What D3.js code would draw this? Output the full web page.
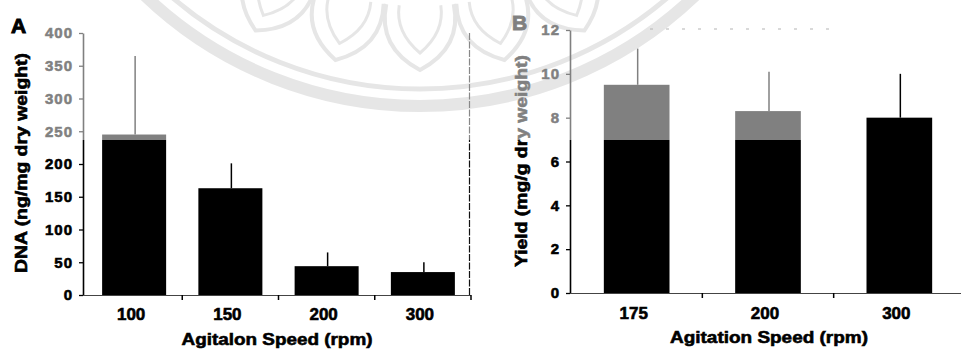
<!DOCTYPE html>
<meta charset="utf-8">
<style>
body { margin: 0; background: #fff; }
svg { display: block; }
text {
  font-family: "Liberation Sans", Arial, sans-serif;
  font-weight: bold;
  fill: #000;
  stroke: #000;
  stroke-width: 0.6px;
}
</style>
<svg width="961" height="350"></svg>
<script src="https://cdn.jsdelivr.net/npm/d3@7"></script>
<script>

// panel A
var speedsA = ["100", "150", "200", "300"];
var dnaMean = [245, 163, 44, 35];
var dnaSD = [120, 38, 21, 15];
var ticksA = [0, 50, 100, 150, 200, 250, 300, 350, 400];

// panel B
var speedsB = ["175", "200", "300"];
var yieldMean = [9.5, 8.3, 8.0];
var yieldSD = [1.65, 1.8, 2.0];
var ticksB = [0, 2, 4, 6, 8, 10, 12];

var svg = d3.select("svg");

// faint seal watermark behind the figure
var mark = svg.append("g")
    .attr("fill", "none")
    .attr("stroke", "#cdcdcd")
    .attr("transform", "translate(420,-292)");

mark.append("circle").attr("r", 398).attr("stroke-width", 12);
mark.append("circle").attr("r", 381).attr("stroke-width", 5);

function petal(r0, r1, w, a) {
  var p = d3.path();
  var rad = Math.PI / 180;
  function pt(r, t) { return [r * Math.sin(t * rad), r * Math.cos(t * rad)]; }
  var s = pt(r0, a - w), e = pt(r0, a + w), tip = pt(r1, a);
  var c1 = pt(r1 - 20, a - w * 1.1), c2 = pt(r1 - 20, a + w * 1.1);
  p.moveTo(s[0], s[1]);
  p.quadraticCurveTo(c1[0], c1[1], tip[0], tip[1]);
  p.quadraticCurveTo(c2[0], c2[1], e[0], e[1]);
  return p.toString();
}

d3.range(-40.5, 41, 13.5).forEach(function (a) {
  mark.append("path").attr("d", petal(298, 362, 6.5, a)).attr("stroke-width", 4);
  mark.append("path").attr("d", petal(298, 345, 4, a)).attr("stroke-width", 3);
});

function drawPanel(opt) {
  var g = svg.append("g");

  var x = d3.scaleBand()
      .domain(opt.cats)
      .range(opt.xRange)
      .paddingInner(opt.pad)
      .paddingOuter(opt.pad / 2);

  var y = d3.scaleLinear()
      .domain(opt.yDomain)
      .range(opt.yRange);

  var rows = opt.cats.map(function (c, i) {
    return { cat: c, mean: opt.mean[i], sd: opt.sd[i] };
  });

  // bars
  g.append("g").selectAll("rect")
      .data(rows)
      .enter().append("rect")
        .attr("x", function (d) { return x(d.cat); })
        .attr("width", x.bandwidth())
        .attr("y", function (d) { return y(d.mean); })
        .attr("height", function (d) { return y(0) - y(d.mean); })
        .attr("fill", "#000");

  // upper error bars, no caps
  g.append("g").selectAll("line")
      .data(rows)
      .enter().append("line")
        .attr("x1", function (d) { return x(d.cat) + x.bandwidth() / 2 + 1; })
        .attr("x2", function (d) { return x(d.cat) + x.bandwidth() / 2 + 1; })
        .attr("y1", function (d) { return y(d.mean); })
        .attr("y2", function (d) { return y(d.mean + d.sd); })
        .attr("stroke", "#000")
        .attr("stroke-width", 1.5);

  // y axis
  var ya = g.append("g")
      .attr("transform", "translate(" + opt.axisX + ",0)")
      .call(d3.axisLeft(y).tickValues(opt.ticks).tickSize(4).tickPadding(6).tickSizeOuter(0));
  ya.attr("font-family", null).attr("font-size", null);
  ya.select(".domain").attr("stroke", "#000").attr("stroke-width", 1.6);
  ya.selectAll(".tick line").attr("stroke", "#000").attr("stroke-width", 1.3);
  ya.selectAll(".tick text")
      .attr("font-size", 15)
      .attr("letter-spacing", 1)
      .attr("fill", "#000");

  // x axis baseline with ticks between categories
  g.append("line")
      .attr("x1", opt.axisX)
      .attr("x2", opt.xEnd)
      .attr("y1", y(0) + 0.5)
      .attr("y2", y(0) + 0.5)
      .attr("stroke", "#444")
      .attr("stroke-width", 1.2);

  g.append("g").selectAll("line")
      .data(opt.cats)
      .enter().append("line")
        .attr("x1", function (d) { return x(d) + x.bandwidth() + x.step() * opt.pad / 2; })
        .attr("x2", function (d) { return x(d) + x.bandwidth() + x.step() * opt.pad / 2; })
        .attr("y1", y(0))
        .attr("y2", y(0) + 5)
        .attr("stroke", "#000")
        .attr("stroke-width", 1.5);

  g.append("g").selectAll("text")
      .data(opt.cats)
      .enter().append("text")
        .attr("x", function (d) { return x(d) + x.bandwidth() / 2 - 3; })
        .attr("y", opt.catY)
        .attr("text-anchor", "middle")
        .attr("font-size", 17)
        .text(function (d) { return d; });

  g.append("text")
      .attr("x", opt.titleX)
      .attr("y", opt.titleY)
      .attr("text-anchor", "middle")
      .attr("font-size", 17)
      .attr("textLength", opt.titleLen)
      .attr("lengthAdjust", "spacingAndGlyphs")
      .text(opt.xTitle);

  g.append("text")
      .attr("transform", "translate(" + opt.yTitleX + "," + opt.yTitleY + ") rotate(-90)")
      .attr("text-anchor", "middle")
      .attr("font-size", 16)
      .attr("textLength", opt.yTitleLen)
      .attr("lengthAdjust", "spacingAndGlyphs")
      .text(opt.yTitle);

  g.append("text")
      .attr("x", opt.letterX)
      .attr("y", opt.letterY)
      .attr("font-size", 21)
      .style("stroke-width", "1px")
      .text(opt.letter);

  return { g: g, x: x, y: y };
}

var a = drawPanel({
  cats: speedsA, mean: dnaMean, sd: dnaSD, ticks: ticksA,
  xRange: [86, 471], pad: 0.335, yDomain: [0, 400], yRange: [295, 33],
  axisX: 83, xEnd: 471, catY: 320,
  xTitle: "Agitalon Speed (rpm)", titleX: 277, titleY: 345, titleLen: 191,
  yTitle: "DNA (ng/mg dry weight)", yTitleX: 27, yTitleY: 163, yTitleLen: 220,
  letter: "A", letterX: 11, letterY: 33
});

// dashed right frame of panel A
a.g.append("line")
    .attr("x1", 469.5).attr("x2", 469.5)
    .attr("y1", a.y(400)).attr("y2", a.y(0))
    .attr("stroke", "#111")
    .attr("stroke-width", 1.2)
    .attr("stroke-dasharray", "7,1.5");

var b = drawPanel({
  cats: speedsB, mean: yieldMean, sd: yieldSD, ticks: ticksB,
  xRange: [571, 965], pad: 0.5, yDomain: [0, 12], yRange: [293, 30],
  axisX: 570, xEnd: 961, catY: 319,
  xTitle: "Agitation Speed (rpm)", titleX: 769, titleY: 343, titleLen: 198,
  yTitle: "Yield (mg/g dry weight)", yTitleX: 527, yTitleY: 161, yTitleLen: 212,
  letter: "B", letterX: 512, letterY: 30
});

// faint dashed top frame of panel B
b.g.append("line")
    .attr("x1", 650).attr("x2", 830)
    .attr("y1", b.y(12) - 1).attr("y2", b.y(12) - 1)
    .attr("stroke", "#666")
    .attr("stroke-dasharray", "3,13");

// washed-out band from the scan: dark ink in this area prints grey
svg.append("rect")
    .attr("x", 35)
    .attr("y", 0)
    .attr("width", 810)
    .attr("height", 140)
    .attr("fill", "#fff")
    .attr("opacity", 0.5);

</script>
